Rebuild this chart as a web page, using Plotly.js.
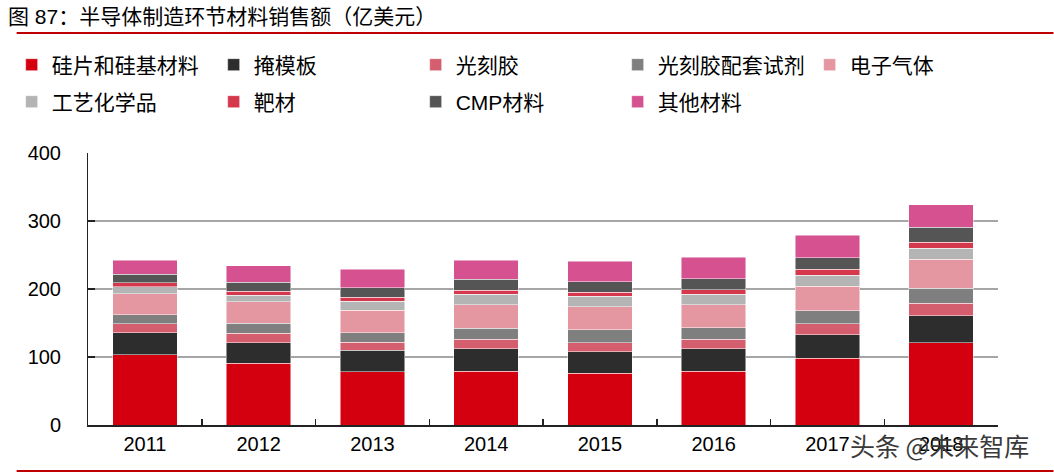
<!DOCTYPE html>
<html>
<head>
<meta charset="utf-8">
<script src="https://cdn.plot.ly/plotly-3.0.1.min.js"></script>
<style>html,body{margin:0;padding:0;background:#fff;}#chart{width:1054px;height:473px;}</style>
</head>
<body>
<div id="chart"></div>
<script>
const years = ['2011','2012','2013','2014','2015','2016','2017','2018'];
const seriesNames = ['硅片和硅基材料','掩模板','光刻胶','光刻胶配套试剂','电子气体','工艺化学品','靶材','CMP材料','其他材料'];
const seriesColors = ['#d5000f','#2d2d2d','#d45d6e','#7f7f7f','#e597a1','#b4b4b4','#d5374c','#555555','#d55190'];
const silicon      = [103, 91, 78, 79, 76, 79, 98, 121];
const photomask    = [ 33, 30, 32, 33, 32, 33, 35,  40];
const photoresist  = [ 13, 14, 12, 14, 13, 14, 16,  18];
const prAncillary  = [ 13, 15, 14, 16, 19, 17, 19,  22];
const gases        = [ 31, 31, 33, 35, 34, 34, 36,  43];
const wetChemicals = [ 10, 10, 13, 15, 15, 15, 16,  16];
const targets      = [  6,  6,  6,  6,  6,  7,  9,   9];
const cmp          = [ 13, 13, 14, 16, 16, 16, 17,  22];
const others       = [ 20, 24, 27, 28, 30, 32, 33,  33];
const seriesValues = [silicon, photomask, photoresist, prAncillary, gases, wetChemicals, targets, cmp, others];
const legendOf     = ['legend','legend','legend','legend','legend3','legend2','legend2','legend2','legend2'];

const W = 1054, H = 473;
const L = 80, R = 56, T = 153, B = 48;
const pw = W - L - R, ph = H - T - B;
const px = x => (x - L) / pw;
const py = y => (H - B - y) / ph;
const FONT = 'Liberation Sans, Arial, Noto Sans CJK SC, sans-serif';

const traces = seriesNames.map((name, i) => ({
  type: 'bar',
  name: name,
  x: years,
  y: seriesValues[i],
  marker: {color: seriesColors[i], line: {color: 'rgba(255,255,255,0.6)', width: 0.8}},
  legend: legendOf[i],
  hoverinfo: 'x+y+name'
}));

const legendCommon = {
  orientation: 'h',
  xanchor: 'left',
  yanchor: 'middle',
  x: px(3),
  entrywidth: 157,
  entrywidthmode: 'pixels',
  traceorder: 'normal',
  font: {family: FONT, size: 21, color: '#000'},
  bgcolor: 'rgba(0,0,0,0)',
  itemclick: false,
  itemdoubleclick: false
};

const layout = {
  width: W, height: H,
  margin: {l: L, r: R, t: T, b: B, pad: 0},
  paper_bgcolor: '#fff',
  plot_bgcolor: '#fff',
  barmode: 'stack',
  bargap: 0.435,
  font: {family: FONT, size: 20, color: '#000'},
  title: {
    text: '图 87：半导体制造环节材料销售额（亿美元）',
    font: {family: FONT, size: 21, color: '#000'},
    xref: 'container', yref: 'container',
    x: 8 / W, xanchor: 'left',
    y: 1 - 17 / H, yanchor: 'middle'
  },
  showlegend: true,
  legend: Object.assign({}, legendCommon, {y: py(65)}),
  legend2: Object.assign({}, legendCommon, {y: py(102)}),
  legend3: Object.assign({}, legendCommon, {x: px(808), y: py(65)}),
  xaxis: {
    type: 'category',
    showline: true, linecolor: '#222', linewidth: 1.5,
    ticks: 'inside', tickson: 'boundaries', ticklen: 6, tickwidth: 1.5, tickcolor: '#222',
    tickfont: {family: FONT, size: 20, color: '#000'},
    ticklabelstandoff: 0,
    showgrid: false, zeroline: false,
    fixedrange: true
  },
  yaxis: {
    range: [0, 400],
    tickvals: [0, 100, 200, 300, 400],
    showline: true, linecolor: '#222', linewidth: 1,
    ticks: 'inside', ticklen: 7, tickwidth: 1.5, tickcolor: '#222',
    tickfont: {family: FONT, size: 20, color: '#000'},
    ticklabelstandoff: 22,
    showgrid: true, gridcolor: '#a6a6a6', gridwidth: 1.5,
    zeroline: false,
    fixedrange: true
  },
  shapes: [
    {type: 'line', xref: 'paper', yref: 'paper', x0: px(8), x1: px(1054), y0: py(33), y1: py(33), line: {color: '#c00000', width: 2}},
    {type: 'line', xref: 'paper', yref: 'paper', x0: px(8), x1: px(1054), y0: py(471), y1: py(471), line: {color: '#c00000', width: 2}}
  ],
  annotations: [
    {text: '头条 @未来智库', xref: 'paper', yref: 'paper', x: px(847), y: py(445), xanchor: 'left', yanchor: 'middle',
     showarrow: false, font: {family: 'Noto Sans CJK SC, sans-serif', size: 25, color: '#3a3a3a'}}
  ]
};

Plotly.newPlot('chart', traces, layout, {displayModeBar: false, staticPlot: true});
</script>
</body>
</html>
